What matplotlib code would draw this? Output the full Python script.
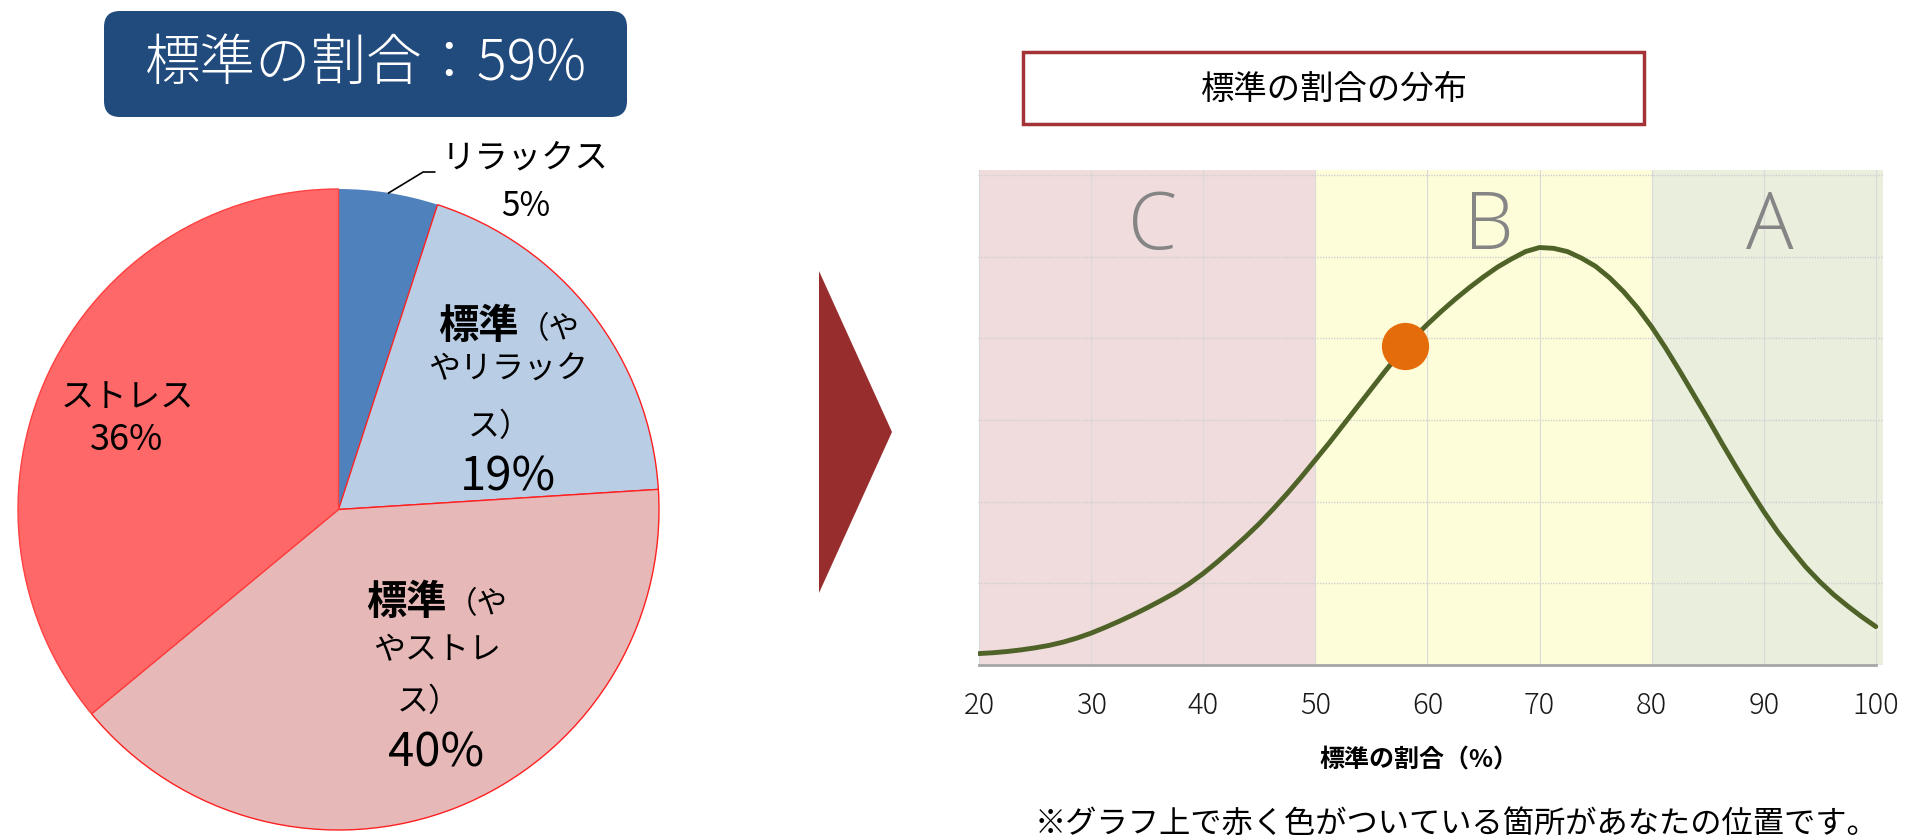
import matplotlib
matplotlib.use('Agg')
import matplotlib.pyplot as plt
from matplotlib.patches import FancyBboxPatch, Rectangle, Polygon
import numpy as np

plt.rcParams['font.family'] = ['Noto Sans CJK JP', 'DejaVu Sans']

# --- pie: share of each stress category (%) ---
pie_names = ['リラックス', '標準（ややリラックス）', '標準（ややストレス）', 'ストレス']
pie_share = [5, 19, 40, 36]
pie_colors = ['#4F81BD', '#B9CDE5', '#E6B9B8', '#FF6868']
pie_edges = ['none', '#FF2020', '#FF2020', '#FF4040']

# --- distribution of the "standard" share ---
curve_x = [20, 21.25, 22.5, 23.75, 25, 26.25, 27.5, 28.75, 30, 31.25, 32.5, 33.75,
           35, 36.25, 37.5, 38.75, 40, 41.25, 42.5, 43.75, 45, 46.25, 47.5, 48.75,
           50, 51.25, 52.5, 53.75, 55, 56.25, 57.5, 58.75, 60, 61.25, 62.5, 63.75,
           65, 66.25, 67.5, 68.75, 70, 71.25, 72.5, 73.75, 75, 76.25, 77.5, 78.75,
           80, 81.25, 82.5, 83.75, 85, 86.25, 87.5, 88.75, 90, 91.25, 92.5, 93.75,
           95, 96.25, 97.5, 98.75, 100]
curve_y = [0.14, 0.15, 0.165, 0.185, 0.21, 0.24, 0.28, 0.33, 0.39, 0.46, 0.535, 0.615,
           0.70, 0.79, 0.885, 0.995, 1.12, 1.26, 1.41, 1.565, 1.73, 1.91, 2.10, 2.30,
           2.51, 2.72, 2.94, 3.16, 3.38, 3.60, 3.81, 4.00, 4.17, 4.33, 4.48, 4.62,
           4.75, 4.87, 4.97, 5.06, 5.11, 5.10, 5.06, 4.98, 4.88, 4.74, 4.57, 4.37,
           4.14, 3.88, 3.60, 3.31, 3.02, 2.72, 2.43, 2.15, 1.88, 1.63, 1.41, 1.20,
           1.02, 0.86, 0.72, 0.59, 0.47]
your_x = 58
your_y = 3.9

zone_names = ['C', 'B', 'A']
zone_edges = [20, 50, 80, 100]
zone_colors = ['#F0DCDC', '#FEFDD9', '#E9EEDD']
xticks = [20, 30, 40, 50, 60, 70, 80, 90, 100]

W, H = 1910, 840
fig = plt.figure(figsize=(W / 100, H / 100), dpi=100)

# ---------------- pie ----------------
cx, cy, R = 338.5, 509.5, 320.5
axp = fig.add_axes([(cx - R) / W, (H - cy - R) / H, 2 * R / W, 2 * R / H])
wedges, _ = axp.pie(pie_share, colors=pie_colors, startangle=90, counterclock=False,
                    wedgeprops=dict(linewidth=1.0))
for w, ec in zip(wedges, pie_edges):
    w.set_edgecolor(ec)
axp.set_xlim(-1, 1)
axp.set_ylim(-1, 1)
axp.set_aspect('auto')

# leader line for the small slice
w0 = wedges[0]
mid = np.deg2rad((w0.theta1 + w0.theta2) / 2)
axp.plot([np.cos(mid), 0.264, 0.30], [np.sin(mid), 1.053, 1.053],
         color='black', lw=1.2, clip_on=False)

# ---------------- distribution chart ----------------
x0px, ux = 979.0, 11.21
y0px, uy = 665.0, 81.7
xlim = (19.9, 100.6)
ylim = (0, 6.06)
ax = fig.add_axes([(x0px + (xlim[0] - 20) * ux) / W, (H - y0px) / H,
                   (xlim[1] - xlim[0]) * ux / W, ylim[1] * uy / H])
ax.set_xlim(*xlim)
ax.set_ylim(*ylim)

for i, (name, col) in enumerate(zip(zone_names, zone_colors)):
    lo, hi = zone_edges[i], zone_edges[i + 1]
    if i == len(zone_names) - 1:
        hi = xlim[1]
    ax.axvspan(lo, hi, color=col, lw=0, zorder=0.2)
    ax.text((zone_edges[i] + zone_edges[i + 1]) / 2 + 0.5, 5.34, name,
            ha='center', va='center', fontsize=57, color='#858585',
            family=['Open Sans', 'Lato', 'DejaVu Sans'], fontweight='light', zorder=1.5)

ax.plot(curve_x, curve_y, color='#4F6228', lw=3.5, solid_capstyle='round',
        solid_joinstyle='round', zorder=3)
ax.plot([your_x], [your_y], 'o', ms=34, color='#E46C0A', mec='none', zorder=4)

ax.set_xticks(xticks)
ax.set_yticks(range(0, 7))
ax.set_yticklabels([])
ax.tick_params(axis='both', length=0)
ax.tick_params(axis='x', pad=18, labelsize=21, labelcolor='#1A1A1A')
for lab in ax.get_xticklabels():
    lab.set_fontweight('light')
ax.set_axisbelow(True)
ax.grid(axis='x', color='#DADADA', lw=0.8)
ax.grid(axis='y', color='#CFCFCF', lw=1.0, linestyle=(0, (1, 1)))
for s in ['left', 'right', 'top']:
    ax.spines[s].set_visible(False)
ax.spines['bottom'].set_bounds(20, 100)
ax.spines['bottom'].set_color('#A6A6A6')
ax.spines['bottom'].set_linewidth(2)
ax.patch.set_alpha(0)

# ---------------- overlay in pixel units ----------------
ov = fig.add_axes([0, 0, 1, 1], zorder=5)
ov.set_xlim(0, W)
ov.set_ylim(H, 0)
ov.axis('off')

# headline box
ov.add_patch(FancyBboxPatch((104 + 16, 11 + 16), 523 - 32, 106 - 32,
                            boxstyle='round,pad=16', fc='#214A7D', ec='none'))
ov.text(366, 64, f'標準の割合：{pie_share[1] + pie_share[2]}%', ha='center', va='center',
        fontsize=40, color='white', fontweight='light')

# arrow
ov.add_patch(Polygon([[819, 271], [892, 432], [819, 593]], closed=True,
                     fc='#982D2E', ec='none'))

# right-hand title box
ov.add_patch(Rectangle((1023, 52), 621, 72, fc='white', ec='#A33336', lw=2.5))
ov.text(1334, 89, '標準の割合の分布', ha='center', va='center', fontsize=24, color='black')

# pie labels
ov.text(525, 158, pie_names[0], ha='center', va='center', fontsize=24)
ov.text(526, 207, f'{pie_share[0]}%', ha='center', va='center', fontsize=24)

ov.text(127, 397, pie_names[3], ha='center', va='center', fontsize=24)
ov.text(127, 440, f'{pie_share[3]}%', ha='center', va='center', fontsize=26)

ov.text(519, 327, '標準', ha='right', va='center', fontsize=29, fontweight='bold')
ov.text(519, 330, '（や', ha='left', va='center', fontsize=22)
ov.text(508, 370, 'やリラック', ha='center', va='center', fontsize=23)
ov.text(500, 427, 'ス）', ha='center', va='center', fontsize=23)
ov.text(508, 477, f'{pie_share[1]}%', ha='center', va='center', fontsize=34)

ov.text(447, 602, '標準', ha='right', va='center', fontsize=29, fontweight='bold')
ov.text(447, 605, '（や', ha='left', va='center', fontsize=22)
ov.text(437, 650, 'やストレ', ha='center', va='center', fontsize=23)
ov.text(429, 702, 'ス）', ha='center', va='center', fontsize=23)
ov.text(436, 753, f'{pie_share[2]}%', ha='center', va='center', fontsize=34)

# axis title and note
ov.text(1419, 761, '標準の割合（%）', ha='center', va='center', fontsize=18, fontweight='bold')
ov.text(1456, 824, '※グラフ上で赤く色がついている箇所があなたの位置です。',
        ha='center', va='center', fontsize=22.5)

fig.savefig('out.png', dpi=100)
